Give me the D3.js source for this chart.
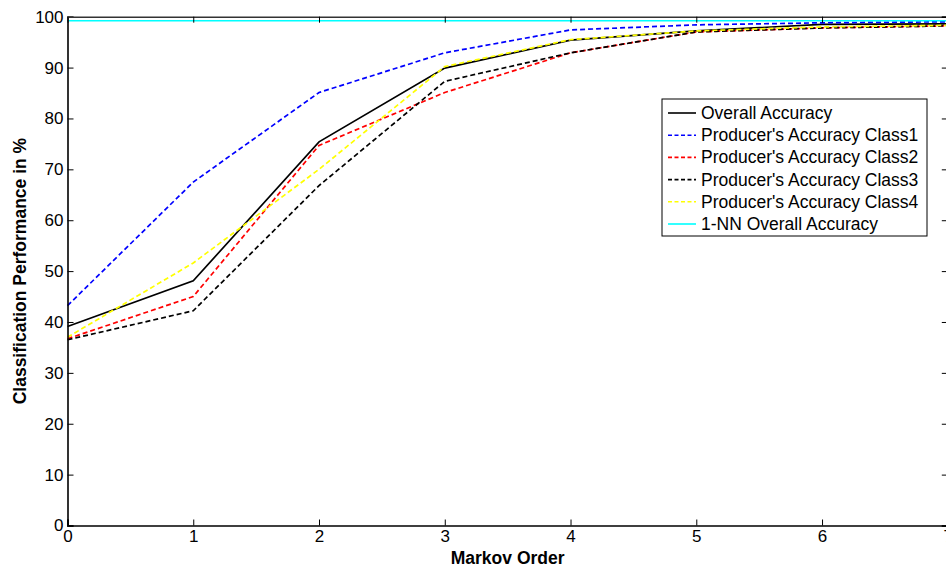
<!DOCTYPE html>
<html><head><meta charset="utf-8">
<script src="https://cdn.jsdelivr.net/npm/d3@7"></script>
<style>body{margin:0;background:#fff}svg{display:block;font-family:"Liberation Sans",Arial,sans-serif}</style>
</head><body><svg id="c" width="946" height="568"></svg>
<script>
const orders = [0,1,2,3,4,5,6,7];
const overall = [39.1,48.1,75.4,89.9,95.4,97.2,98.5,98.6];
const class1 = [43.2,67.5,85.1,92.9,97.4,98.4,98.8,99.0];
const class2 = [36.7,45.0,74.7,85.1,92.9,97.0,97.8,98.2];
const class3 = [36.5,42.2,66.8,87.3,92.9,97.0,97.8,98.2];
const class4 = [37.0,51.6,70.0,90.2,95.5,97.2,98.0,98.3];
const nn = [99.2,99.2,99.2,99.2,99.2,99.2,99.2,99.2];
const yTicks = [0,10,20,30,40,50,60,70,80,90,100];
const xTicks = [0,1,2,3,4,5,6,7];
const seriesNames = ["Overall Accuracy","Producer's Accuracy Class1","Producer's Accuracy Class2","Producer's Accuracy Class3","Producer's Accuracy Class4","1-NN Overall Accuracy"];
const seriesData = [overall,class1,class2,class3,class4,nn];
const seriesColors = ["#000000","#0000ff","#ff0000","#000000","#ffff00","#00ffff"];
const seriesDash = [null,"5,3","5,3","5,3","5,3",null];

const svg = d3.select("#c");
const L=67.5, R=947.8, T=16.7, B=525.5;
const x = d3.scaleLinear().domain([0,7]).range([L,R]);
const y = d3.scaleLinear().domain([0,100]).range([B,T]);

svg.append("rect").attr("x",L).attr("y",T).attr("width",R-L).attr("height",B-T)
  .attr("fill","#fff").attr("stroke","none");

const line = d3.line().x((d,i)=>x(orders[i])).y(d=>y(d));
seriesData.forEach((s,k)=>{
  svg.append("path").datum(s).attr("d",line).attr("fill","none")
    .attr("stroke",seriesColors[k]).attr("stroke-width",1.7)
    .attr("stroke-dasharray",seriesDash[k]);
});

const axB = svg.append("g").attr("transform",`translate(0,${B})`)
  .call(d3.axisBottom(x).tickValues(xTicks).tickSize(-6).tickPadding(4).tickFormat(d3.format("d")));
const axL = svg.append("g").attr("transform",`translate(${L},0)`)
  .call(d3.axisLeft(y).tickValues(yTicks).tickSize(-6).tickPadding(4).tickFormat(d3.format("d")));
const axT = svg.append("g").attr("transform",`translate(0,${T})`)
  .call(d3.axisTop(x).tickValues(xTicks).tickSize(-6).tickFormat(""));
const axR = svg.append("g").attr("transform",`translate(${R},0)`)
  .call(d3.axisRight(y).tickValues(yTicks).tickSize(-6).tickFormat(""));
[axB,axL,axT,axR].forEach(g=>{
  g.select(".domain").attr("stroke","#000").attr("stroke-width",1.6);
  g.selectAll(".tick line").attr("stroke","#000").attr("stroke-width",1);
  g.selectAll("text").attr("font-size",17).attr("fill","#000").attr("font-family","Liberation Sans, Arial, sans-serif");
});
axT.select(".domain").attr("stroke","#333");

svg.append("text").attr("x",(L+R)/2).attr("y",564).attr("text-anchor","middle")
  .attr("font-size",17.5).attr("font-weight","bold").text("Markov Order");
svg.append("text").attr("transform",`translate(26,${(T+B)/2}) rotate(-90)`).attr("text-anchor","middle")
  .attr("font-size",17.5).attr("font-weight","bold").text("Classification Performance in %");

const lg = svg.append("g");
lg.append("rect").attr("x",662).attr("y",99).attr("width",265).attr("height",137)
  .attr("fill","#fff").attr("stroke","#000").attr("stroke-width",1);
seriesNames.forEach((n,k)=>{
  const yy = 113 + k*22.2;
  lg.append("line").attr("x1",668).attr("x2",696).attr("y1",yy).attr("y2",yy)
    .attr("stroke",seriesColors[k]).attr("stroke-width",1.6).attr("stroke-dasharray",seriesDash[k] ? "4,2.5" : null);
  lg.append("text").attr("x",701).attr("y",yy+6).attr("font-size",17.5).text(n);
});
</script></body></html>
